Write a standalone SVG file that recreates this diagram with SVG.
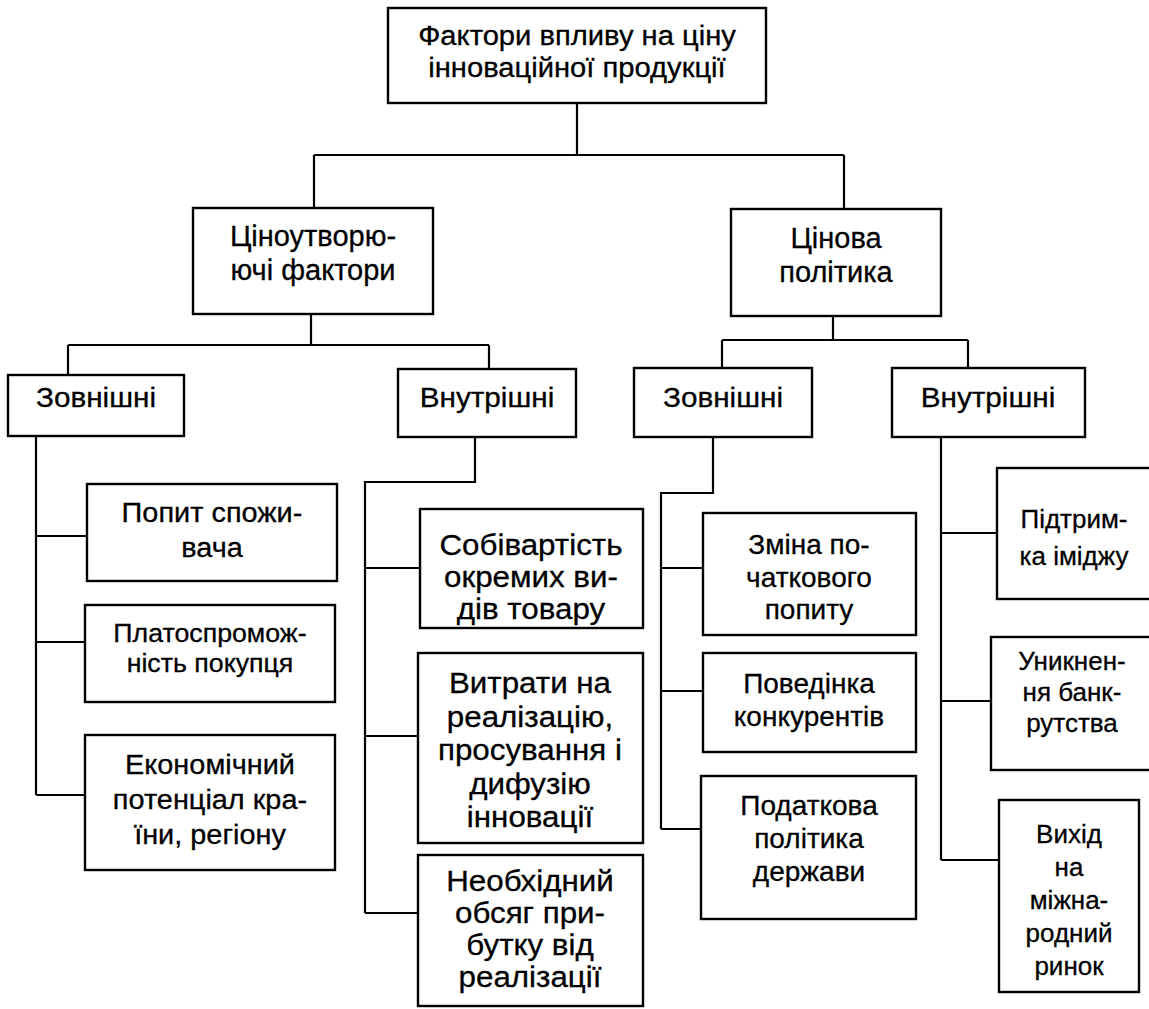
<svg xmlns="http://www.w3.org/2000/svg" width="1149" height="1009" viewBox="0 0 1149 1009">
<style>
  .box { fill: #ffffff; stroke: #000000; stroke-width: 2.4; }
  .ln { fill: none; stroke: #000000; stroke-width: 2.2; }
  text { font-family: "Liberation Sans", Arial, sans-serif; fill: #000000; stroke: #000000; stroke-width: 0.3; text-anchor: middle; }
  .s25 { font-size: 25px; }
  .s26 { font-size: 26px; }
  .s27 { font-size: 27px; }
  .s28 { font-size: 28px; }
  .s29 { font-size: 29px; }
</style>
<rect x="0" y="0" width="1149" height="1009" fill="#ffffff"/>

<g id="connectors">
  <path class="ln" d="M577,103 V155 M314,155 H844 M314,155 V208 M844,155 V209"/>
  <path class="ln" d="M311,314 V345 M68,345 H489 M68,345 V375 M489,345 V369"/>
  <path class="ln" d="M833,316 V340 M722,340 H968 M722,340 V368 M968,340 V368"/>
  <path class="ln" d="M36,436 V795 M36,536 H87 M36,642 H85 M36,795 H85"/>
  <path class="ln" d="M475,437 V482 H365 V913 M365,568 H420 M365,736 H418 M365,913 H418"/>
  <path class="ln" d="M713,437 V493 H661 V829 M661,568 H703 M661,691 H703 M661,829 H701"/>
  <path class="ln" d="M941,437 V860 M941,533 H997 M941,701 H991 M941,860 H999"/>
</g>

<g id="root">
  <rect class="box" x="388" y="8" width="378" height="95"/>
  <text class="s27" transform="matrix(1.08,0,0,1,-46.16,0)"><tspan x="577" y="45">Фактори впливу на ціну</tspan><tspan x="577" y="77">інноваційної продукції</tspan></text>
</g>

<g id="price-forming">
  <rect class="box" x="193" y="208" width="240" height="106"/>
  <text class="s29"><tspan x="313" y="246">Ціноутворю-</tspan><tspan x="313" y="280">ючі фактори</tspan></text>
</g>

<g id="price-policy">
  <rect class="box" x="731" y="209" width="210" height="107"/>
  <text class="s29"><tspan x="836" y="248">Цінова</tspan><tspan x="836" y="282">політика</tspan></text>
</g>

<g id="external-1">
  <rect class="box" x="8" y="375" width="176" height="61"/>
  <text class="s27" transform="matrix(1.1,0,0,1,-9.6,0)" x="96" y="407">Зовнішні</text>
</g>

<g id="internal-1">
  <rect class="box" x="398" y="369" width="178" height="68"/>
  <text class="s27" transform="matrix(1.1,0,0,1,-48.7,0)" x="487" y="407">Внутрішні</text>
</g>

<g id="external-2">
  <rect class="box" x="634" y="368" width="178" height="69"/>
  <text class="s27" transform="matrix(1.1,0,0,1,-72.3,0)" x="723" y="407">Зовнішні</text>
</g>

<g id="internal-2">
  <rect class="box" x="892" y="368" width="193" height="69"/>
  <text class="s27" transform="matrix(1.1,0,0,1,-98.8,0)" x="988" y="407">Внутрішні</text>
</g>

<g id="demand">
  <rect class="box" x="87" y="484" width="250" height="97"/>
  <text class="s27" transform="matrix(1.07,0,0,1,-14.84,0)"><tspan x="212" y="522">Попит спожи-</tspan><tspan x="212" y="557">вача</tspan></text>
</g>

<g id="solvency">
  <rect class="box" x="85" y="605" width="250" height="97"/>
  <text class="s25" transform="matrix(1.07,0,0,1,-14.7,0)"><tspan x="210" y="642">Платоспромож-</tspan><tspan x="210" y="672">ність покупця</tspan></text>
</g>

<g id="economic">
  <rect class="box" x="85" y="735" width="250" height="135"/>
  <text class="s27" transform="matrix(1.07,0,0,1,-14.7,0)"><tspan x="210" y="774">Економічний</tspan><tspan x="210" y="809">потенціал кра-</tspan><tspan x="210" y="844">їни, регіону</tspan></text>
</g>

<g id="cost">
  <rect class="box" x="420" y="509" width="223" height="119"/>
  <text class="s29" transform="matrix(1.08,0,0,1,-42.48,0)"><tspan x="531" y="555">Собівартість</tspan><tspan x="531" y="587">окремих ви-</tspan><tspan x="531" y="619">дів товару</tspan></text>
</g>

<g id="expenses">
  <rect class="box" x="418" y="653" width="225" height="190"/>
  <text class="s29" transform="matrix(1.08,0,0,1,-42.4,0)"><tspan x="530" y="693">Витрати на</tspan><tspan x="530" y="727">реалізацію,</tspan><tspan x="530" y="760">просування і</tspan><tspan x="530" y="794">дифузію</tspan><tspan x="530" y="827">інновації</tspan></text>
</g>

<g id="profit">
  <rect class="box" x="418" y="855" width="225" height="151"/>
  <text class="s29" transform="matrix(1.08,0,0,1,-42.4,0)"><tspan x="530" y="891">Необхідний</tspan><tspan x="530" y="923">обсяг при-</tspan><tspan x="530" y="955">бутку від</tspan><tspan x="530" y="987">реалізації</tspan></text>
</g>

<g id="initial-demand">
  <rect class="box" x="703" y="513" width="213" height="122"/>
  <text class="s28"><tspan x="809" y="554">Зміна по-</tspan><tspan x="809" y="587">чаткового</tspan><tspan x="809" y="619">попиту</tspan></text>
</g>

<g id="competitors">
  <rect class="box" x="703" y="653" width="213" height="99"/>
  <text class="s28"><tspan x="809" y="693">Поведінка</tspan><tspan x="809" y="726">конкурентів</tspan></text>
</g>

<g id="tax">
  <rect class="box" x="701" y="776" width="215" height="143"/>
  <text class="s28"><tspan x="809" y="815">Податкова</tspan><tspan x="809" y="848">політика</tspan><tspan x="809" y="881">держави</tspan></text>
</g>

<g id="image">
  <rect class="box" x="997" y="468" width="156" height="131"/>
  <text class="s26"><tspan x="1074" y="528">Підтрим-</tspan><tspan x="1074" y="565">ка іміджу</tspan></text>
</g>

<g id="bankruptcy">
  <rect class="box" x="991" y="637" width="162" height="133"/>
  <text class="s26"><tspan x="1072" y="670">Уникнен-</tspan><tspan x="1072" y="701">ня банк-</tspan><tspan x="1072" y="732">рутства</tspan></text>
</g>

<g id="international">
  <rect class="box" x="999" y="800" width="140" height="192"/>
  <text class="s26"><tspan x="1069" y="843">Вихід</tspan><tspan x="1069" y="876">на</tspan><tspan x="1069" y="909">міжна-</tspan><tspan x="1069" y="942">родний</tspan><tspan x="1069" y="975">ринок</tspan></text>
</g>
</svg>
